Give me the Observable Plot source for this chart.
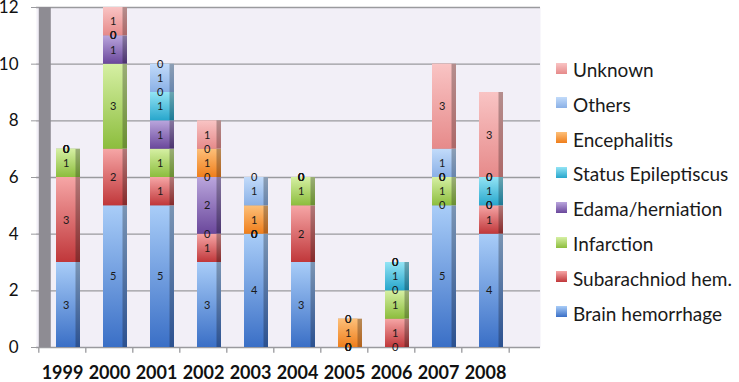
<!DOCTYPE html>
<html>
<head>
<meta charset="utf-8">
<script src="https://cdn.jsdelivr.net/npm/d3@7"></script>
<script src="https://cdn.jsdelivr.net/npm/@observablehq/plot@0.6"></script>
<style>
  html, body { margin: 0; padding: 0; background: #fff; }
  #wrap { position: relative; width: 739px; height: 382px; font-family: Lato, "Open Sans", sans-serif; }
  #legend { position: absolute; left: 556px; top: 60px; }
  .item { position: absolute; left: 0; white-space: nowrap; font-size: 19px; color: #1a1a1a; line-height: 20px; }
  .sw { display: inline-block; width: 11px; height: 11px; margin-right: 6px; vertical-align: 3.5px; }
</style>
</head>
<body>
<div id="wrap"><div id="chart"></div><div id="legend"></div></div>
<script>
const years = ["1999","2000","2001","2002","2003","2004","2005","2006","2007","2008"];
const causes = ["Brain hemorrhage","Subarachniod hem.","Infarction","Edama/herniation","Status Epileptiscus","Encephalitis","Others","Unknown"];
const brainHemorrhage = [3,5,5,3,4,3,0,0,5,4];
const subarachnoidHem = [3,2,1,1,0,2,0,1,0,1];
const infarction      = [1,3,1,0,0,1,0,1,1,0];
const edemaHerniation = [0,1,1,2,0,0,0,0,0,0];
const statusEpilept   = [0,0,1,0,0,0,0,1,0,1];
const encephalitis    = [0,0,0,1,1,0,1,0,0,0];
const others          = [0,0,1,0,1,0,0,0,1,0];
const unknown         = [0,1,0,1,0,0,0,0,3,3];
const yTicks = [0,2,4,6,8,10,12];

// colours: [top, bottom, side]
const palette = [
  ["#a9cdf8","#3a6fc6","#2c5190"],
  ["#f6a6a6","#c0373a","#862a2b"],
  ["#d6f0a4","#8cbd3d","#6a8f31"],
  ["#baa6dd","#6a479b","#4b336f"],
  ["#93e4f5","#27a6cc","#1c7a96"],
  ["#fdc07a","#ef7e1b","#b3611a"],
  ["#c2dbfa","#8ab0e6","#6885ad"],
  ["#f9c4c4","#e68a8a","#ad6868"]
];

const series = [brainHemorrhage, subarachnoidHem, infarction, edemaHerniation, statusEpilept, encephalitis, others, unknown];
const data = [];
years.forEach((yr, i) => {
  causes.forEach((c, k) => data.push({year: yr, cause: c, idx: k, value: series[k][i]}));
});

const step = 47.4;
const stackOpts = (extra) => Plot.stackY({order: causes}, {x: "year", y: "value", z: "cause", ...extra});

const chart = Plot.plot({
  width: 739,
  height: 382,
  marginLeft: 36,
  marginRight: 199,
  marginTop: 7,
  marginBottom: 35,
  style: {fontFamily: "Lato, 'Open Sans', sans-serif", background: "transparent", overflow: "visible"},
  x: {domain: years, range: [36, 510], paddingInner: 0.494, paddingOuter: 0.247, label: null},
  y: {domain: [0, 12], label: null},
  color: {type: "identity"},
  marks: [
    Plot.frame({fill: "#f2eff7", stroke: null}),
    Plot.gridY(yTicks, {stroke: "#9a9a9e", strokeOpacity: 1, strokeWidth: 1.3}),
    Plot.ruleX([years[0]], {x: d => d, dx: -step / 2 + 6, stroke: "#8e8c93", strokeWidth: 12}),
    Plot.ruleX(years, {x: d => d, y1: 0, y2: -0.2, dx: -step / 2, stroke: "#9a9a9e", strokeWidth: 1.3}),
    Plot.ruleX([years[years.length - 1]], {x: d => d, y1: 0, y2: -0.2, dx: step / 2, stroke: "#9a9a9e", strokeWidth: 1.3}),
    Plot.barY(data, stackOpts({fill: d => `url(#gs${d.idx})`, dx: 6})),
    Plot.barY(data, stackOpts({fill: d => `url(#gf${d.idx})`, dx: 6, insetRight: 4.5})),
    Plot.text(data, stackOpts({text: d => String(d.value), dx: 3.8, fontSize: 11, fill: "#1a1a1a"})),
    Plot.axisY(yTicks, {tickSize: 5, tickPadding: 13, fontSize: 17, stroke: "#9a9a9e", fill: "#111", label: null}),
    Plot.axisX({tickSize: 0, tickPadding: 19, fontSize: 18, fontWeight: "bold", fill: "#111", label: null})
  ]
});

// gradient definitions
const defs = d3.select(chart).insert("defs", ":first-child");
palette.forEach((p, k) => {
  const gf = defs.append("linearGradient").attr("id", `gf${k}`).attr("x1", 0).attr("y1", 0).attr("x2", 0).attr("y2", 1);
  gf.append("stop").attr("offset", "0%").attr("stop-color", p[0]);
  gf.append("stop").attr("offset", "100%").attr("stop-color", p[1]);
  const gs = defs.append("linearGradient").attr("id", `gs${k}`).attr("x1", 0).attr("y1", 0).attr("x2", 0).attr("y2", 1);
  gs.append("stop").attr("offset", "0%").attr("stop-color", d3.color(p[0]).darker(0.9));
  gs.append("stop").attr("offset", "100%").attr("stop-color", p[2]);
});

document.getElementById("chart").appendChild(chart);

// legend (top to bottom: reverse of stack order)
const legend = document.getElementById("legend");
causes.slice().reverse().forEach((c, j) => {
  const k = causes.length - 1 - j;
  const div = document.createElement("div");
  div.className = "item";
  div.style.top = (j * 34.8) + "px";
  const sw = document.createElement("span");
  sw.className = "sw";
  sw.style.background = `linear-gradient(${palette[k][0]}, ${palette[k][1]})`;
  div.appendChild(sw);
  div.appendChild(document.createTextNode(c));
  legend.appendChild(div);
});
</script>
</body>
</html>
